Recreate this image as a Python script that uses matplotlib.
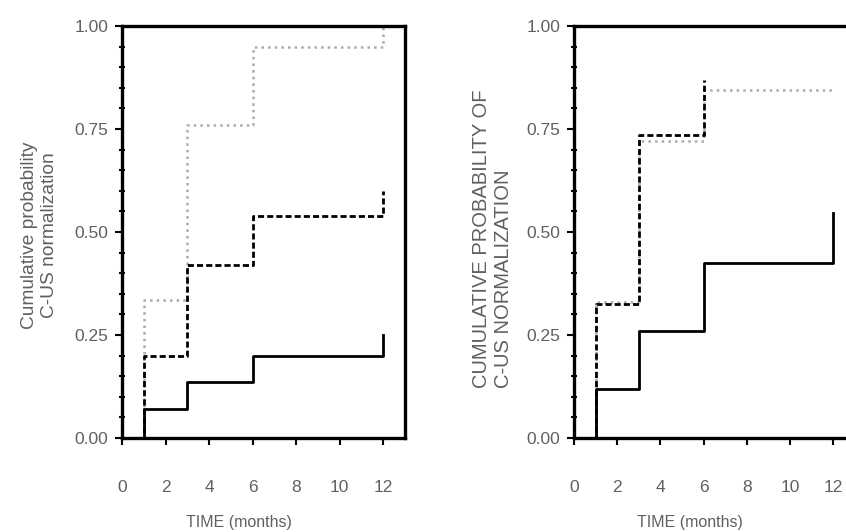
import matplotlib
matplotlib.use('Agg')
import matplotlib.pyplot as plt
from matplotlib.ticker import MultipleLocator

# event times (months) and cumulative probabilities
left_times = [0, 1, 3, 6, 12]
left_solid = [0, 0.07, 0.135, 0.20, 0.25]
left_dashed = [0, 0.20, 0.42, 0.54, 0.60]
left_dotted = [0, 0.335, 0.76, 0.95, 1.00]

right_times = [0, 1, 3, 6, 12]
right_solid = [0, 0.12, 0.26, 0.425, 0.545]
right_dashed_times = [0, 1, 3, 6]
right_dashed = [0, 0.325, 0.735, 0.87]
right_dotted = [0, 0.33, 0.72, 0.845, 0.845]

x_ticks = [0, 2, 4, 6, 8, 10, 12]
y_ticks = [0, 0.25, 0.5, 0.75, 1.0]
y_tick_labels = ['0.00', '0.25', '0.50', '0.75', '1.00']

left_ylabel = 'Cumulative probability\nC-US normalization'
right_ylabel = 'CUMULATIVE PROBABILITY OF\nC-US NORMALIZATION'
xlabel = 'TIME (months)'

plt.rcParams['font.family'] = ['Liberation Sans', 'DejaVu Sans']
text_color = '#606060'

W, H = 846, 532
fig = plt.figure(figsize=(W / 100, H / 100), dpi=100)


def px_axes(x0, y0, x1, y1):
    return fig.add_axes([x0 / W, 1 - y1 / H, (x1 - x0) / W, (y1 - y0) / H])


def style(ax):
    ax.set_xlim(0, 13)
    ax.set_ylim(0, 1)
    ax.set_xticks(x_ticks)
    ax.set_yticks(y_ticks)
    ax.set_yticklabels(y_tick_labels)
    ax.yaxis.set_minor_locator(MultipleLocator(0.05))
    for s in ax.spines.values():
        s.set_linewidth(2.4)
    ax.tick_params(axis='both', which='major', direction='out', length=5, width=1.5,
                   labelsize=12.5, labelcolor=text_color)
    ax.tick_params(axis='x', which='major', pad=25)
    ax.tick_params(axis='y', which='major', pad=5)
    ax.tick_params(axis='y', which='minor', direction='inout', length=4, width=1.5)
    ax.set_xlabel(xlabel, fontsize=11.5, color=text_color)
    ax.xaxis.set_label_coords(0.413, -0.187)


dot_kw = dict(where='post', color='#aaaaaa', lw=1.8, ls=':')
dash_kw = dict(where='post', color='black', lw=2, ls=(0, (2.2, 1.1)))
solid_kw = dict(where='post', color='black', lw=2)

ax1 = px_axes(122, 26, 405, 438)
ax1.step(left_times, left_dotted, **dot_kw)
ax1.step(left_times, left_dashed, **dash_kw)
ax1.step(left_times, left_solid, **solid_kw)
style(ax1)
ax1.set_ylabel(left_ylabel, fontsize=13.8, color=text_color)
ax1.yaxis.set_label_coords(-0.226, 0.493)

ax2 = px_axes(574, 26, 855, 438)
ax2.step(right_times, right_dotted, **dot_kw)
ax2.step(right_dashed_times, right_dashed, **dash_kw)
ax2.step(right_times, right_solid, **solid_kw)
style(ax2)
ax2.set_ylabel(right_ylabel, fontsize=14.5, color=text_color, multialignment='left')
ax2.yaxis.set_label_coords(-0.217, 0.483)

fig.savefig('out.png', dpi=100)
